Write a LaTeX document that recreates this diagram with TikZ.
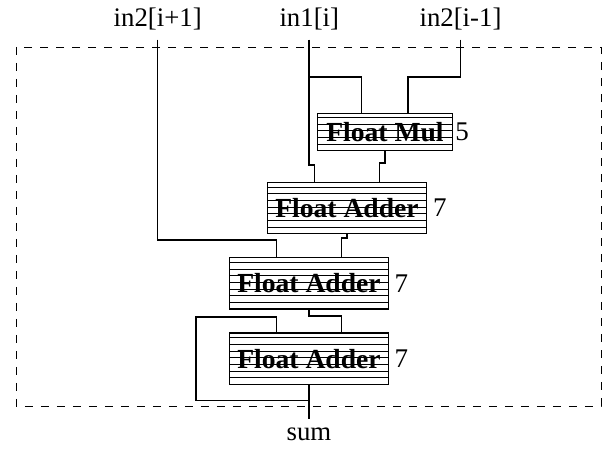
\documentclass[tikz,border=0pt]{standalone}
\usepackage{fontspec}
\setmainfont{Liberation Serif}
\usetikzlibrary{calc}
\begin{document}
\begin{tikzpicture}[x=0.5pt,y=-0.5pt,
  wire/.style={line width=0.8pt},
  frame/.style={line width=0.4pt, dash pattern=on 4.2pt off 3.8pt},
  stagebox/.style={draw, line width=0.7pt, inner sep=0pt, outer sep=0pt,
    font=\fontsize{13.8}{15}\selectfont\bfseries,
    path picture={\foreach \k in {1,...,#1}{\draw[line width=0.4pt]
      ([yshift=\k*3.333pt]path picture bounding box.south west) --
      ([yshift=\k*3.333pt]path picture bounding box.south east);}}},
  mulbox/.style={stagebox=5, minimum width=67.5pt, minimum height=18.7pt},
  addbox/.style={stagebox=7, minimum width=79.7pt, minimum height=25.75pt},
  lat/.style={font=\fontsize{13.5}{15}\selectfont, inner sep=0pt, anchor=west},
  io/.style={font=\fontsize{13.4}{15}\selectfont, inner sep=4.5pt, anchor=base}
]
\useasboundingbox (0,0) rectangle (602,449);
\draw[frame] (16,47) rectangle (601,406);

\node[mulbox] (mul) at (385,132) {Float Mul};
\node[addbox] (add1) at (347,208) {Float Adder};
\node[addbox] (add2) at (309,283.3) {Float Adder};
\node[addbox] (add3) at (309,358.7) {Float Adder};
\node[lat, xshift=1.2pt] (mull) at (mul.east) {5};
\node[lat, xshift=3pt] (add1l) at (add1.east) {7};
\node[lat, xshift=2.8pt] (add2l) at (add2.east) {7};
\node[lat, xshift=2.8pt] (add3l) at (add3.east) {7};

\node[io] (in2p) at (157.7,26.7) {in2[i+1]};
\node[io] (in1) at (309.3,26.7) {in1[i]};
\node[io] (in2m) at (460.5,26.7) {in2[i-1]};
\node[io] (sum) at (309,441) {sum};

\coordinate (j1) at (157.7,240);
\coordinate (br) at (309.3,77);
\coordinate (j2) at (309.3,165);
\coordinate (j3) at (460.5,77);
\coordinate (fb) at (309,400.7);
\coordinate (fbl) at (196,400.7);
\coordinate (fbt) at (196,317);

\draw[wire] (in2p.south) -- (j1) -| ($(add2.north)+(-32.5,0)$);
\draw[wire] (in1.south) -- (j2) -| ($(add1.north)+(-32.5,0)$);
\draw[wire] (br) -| ($(mul.north)+(-23.5,0)$);
\draw[wire] (in2m.south) -- (j3) -| ($(mul.north)+(23,0)$);
\draw[wire] (mul.south) -- ++(0,12.3) -| ($(add1.north)+(32.5,0)$);
\draw[wire] (add1.south) -- ++(0,4.5) -| ($(add2.north)+(32.5,0)$);
\draw[wire] (add2.south) -- ++(0,7) -| ($(add3.north)+(32.5,0)$);
\draw[wire] (add3.south) -- (sum.north);
\draw[wire] (fb) -- (fbl) -- (fbt) -| ($(add3.north)+(-32.5,0)$);
\end{tikzpicture}
\end{document}
